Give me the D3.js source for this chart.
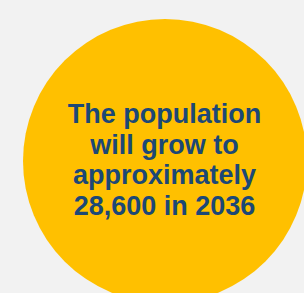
<!DOCTYPE html>
<html>
<head>
<meta charset="utf-8">
<script src="https://cdn.jsdelivr.net/npm/d3@7"></script>
<style>
  html, body { margin: 0; padding: 0; background: #f2f2f2; overflow: hidden; }
</style>
</head>
<body>
<svg id="svg" width="304" height="293"></svg>
<script>
const population = [28600];
const years = [2036];
const lines = [
    'The population',
    'will grow to',
    'approximately',
    d3.format(',')(population[0]) + ' in ' + years[0]
];

const svg = d3.select('#svg');

svg.append('rect')
    .attr('width', 304)
    .attr('height', 293)
    .style('fill', '#f2f2f2');

svg.append('circle')
    .attr('cx', 165)
    .attr('cy', 161)
    .attr('r', 142)
    .style('fill', '#ffc000');

const y = d3.scalePoint()
    .domain(d3.range(lines.length))
    .range([123, 215]);

svg.selectAll('text.line')
    .data(lines)
    .join('text')
    .attr('class', 'line')
    .attr('x', 164.5)
    .attr('y', (d, i) => y(i))
    .attr('text-anchor', 'middle')
    .style('font-family', 'Liberation Sans, Arial, sans-serif')
    .style('font-weight', 'bold')
    .style('font-size', '27px')
    .style('fill', '#1c4876')
    .text(d => d);
</script>
</body>
</html>
